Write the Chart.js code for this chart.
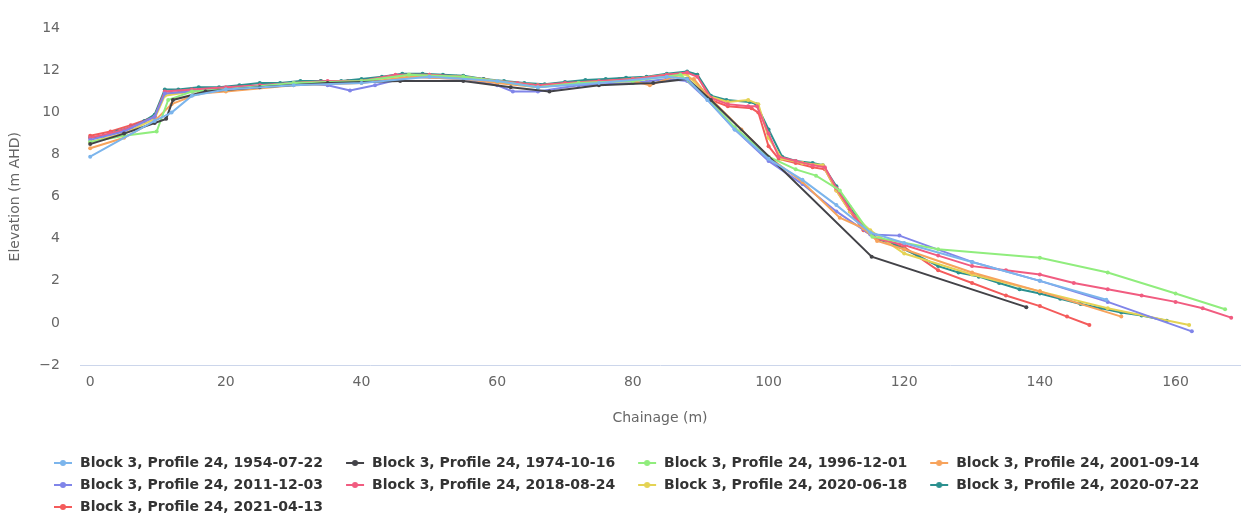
<!DOCTYPE html>
<html lang="en">
<head>
    <meta charset="UTF-8">
    <title>Block 3, Profile 24</title>
    <style>
        body {
            margin: 0;
            background: #fff;
        }
        #wrap {
            width: 1247px;
            height: 518px;
        }
    </style>
    <script src="https://cdn.jsdelivr.net/npm/chart.js"></script>
</head>
<body>
    <div id="wrap">
        <canvas id="profile-chart" width="1247" height="518"></canvas>
    </div>

    <script>
        // survey names, same order as the legend
        const surveys = [
            'Block 3, Profile 24, 1954-07-22',
            'Block 3, Profile 24, 1974-10-16',
            'Block 3, Profile 24, 1996-12-01',
            'Block 3, Profile 24, 2001-09-14',
            'Block 3, Profile 24, 2011-12-03',
            'Block 3, Profile 24, 2018-08-24',
            'Block 3, Profile 24, 2020-06-18',
            'Block 3, Profile 24, 2020-07-22',
            'Block 3, Profile 24, 2021-04-13'
        ];

        const colors = ['#7cb5ec', '#434348', '#90ed7d', '#f7a35c', '#8085e9', '#f15c80', '#e4d354', '#2b908f', '#f45b5b'];

        // [chainage (m), elevation (m AHD)]
        const p1954 = [[0,7.9],[9.5,9.6],[12,10.0],[15,10.8],[20,11.1],[30,11.3],[40,11.4],[50,11.7],[60,11.5],[66,11.2],[75,11.4],[85,11.7],[88,11.6],[91,10.6],[95,9.2],[100,7.8],[105,6.8],[110,5.6],[115,4.3],[120,3.8],[130,2.9],[140,2.0],[149.8,1.1]];
        const p1974 = [[0,8.5],[5,9.0],[9.5,9.5],[11.2,9.7],[12.2,10.6],[17,11.0],[25,11.2],[35,11.4],[45.7,11.5],[55,11.5],[62,11.2],[67.7,11.0],[75,11.3],[83,11.4],[88,11.6],[91.5,10.6],[115.2,3.15],[138,0.75]];
        const p1996 = [[0,8.6],[5,8.9],[9.8,9.1],[11.5,10.6],[15,11.0],[20,11.1],[30,11.4],[40,11.5],[47,11.8],[55,11.7],[60,11.5],[66,11.2],[72,11.4],[80,11.5],[87,11.8],[90,11.0],[95,9.3],[100,7.9],[104,7.3],[107,7.0],[110.5,6.3],[115.3,4.1],[125,3.5],[140,3.1],[150,2.4],[160,1.4],[167.3,0.65]];
        const p2001 = [[0,8.3],[5,8.8],[9.5,9.6],[12,10.4],[16,10.9],[20,11.0],[30,11.3],[40,11.4],[47,11.7],[55,11.6],[60,11.4],[66,11.2],[72,11.4],[80,11.5],[82.5,11.3],[86,11.7],[89,11.6],[91,10.8],[96,9.2],[100,7.9],[105,6.7],[110.5,5.0],[114,4.5],[116,3.9],[120,3.5],[130,2.4],[140,1.5],[152,0.3]];
        const p2011 = [[0,8.7],[5,9.1],[9.5,9.8],[11,10.9],[15,11.0],[20,11.1],[30,11.4],[35,11.3],[38.3,11.05],[42,11.3],[47,11.7],[55,11.6],[60,11.3],[62.3,11.0],[66,11.0],[72,11.3],[80,11.4],[85,11.6],[88,11.5],[91,10.6],[95,9.2],[100,7.7],[105,6.6],[110,5.3],[115,4.2],[119.3,4.15],[130,2.9],[140,2.0],[150,1.0],[162.4,-0.4]];
        const p2018 = [[0,8.8],[3,9.0],[6,9.3],[9.5,9.8],[11,11.0],[15,11.1],[20,11.2],[25,11.3],[30,11.4],[35,11.5],[40,11.5],[45,11.8],[50,11.8],[55,11.7],[60,11.5],[63,11.4],[66,11.3],[70,11.4],[75,11.5],[80,11.6],[85,11.8],[88,11.9],[89.5,11.7],[91.5,10.7],[94,10.4],[97,10.3],[98.3,10.3],[100,9.0],[101.5,7.9],[104,7.7],[106.5,7.5],[108.3,7.4],[110,6.4],[112,5.4],[114,4.5],[116,4.0],[120,3.7],[125,3.2],[130,2.7],[135,2.5],[140,2.3],[145,1.9],[150,1.6],[155,1.3],[160,1.0],[164,0.7],[168.2,0.25]];
        const p2020a = [[0,8.6],[5,9.0],[9.5,9.7],[11,10.8],[15,11.0],[20,11.1],[30,11.4],[40,11.5],[47,11.8],[55,11.7],[60,11.5],[66,11.3],[72,11.4],[80,11.6],[85,11.8],[88,11.8],[91,10.8],[94,10.5],[97,10.6],[98.5,10.4],[100,8.8],[102,7.8],[105,7.6],[108,7.5],[110,6.3],[112,5.3],[115,4.4],[120,3.3],[130,2.3],[140,1.5],[150,0.7],[162,-0.1]];
        const p2020b = [[0,8.8],[2,8.9],[4,9.1],[6,9.3],[8,9.6],[9.5,9.9],[11,11.1],[13,11.1],[16,11.2],[19,11.2],[22,11.3],[25,11.4],[28,11.4],[31,11.5],[34,11.5],[37,11.5],[40,11.6],[43,11.7],[46,11.85],[49,11.85],[52,11.8],[55,11.75],[58,11.6],[61,11.5],[64,11.4],[67,11.35],[70,11.45],[73,11.55],[76,11.6],[79,11.65],[82,11.7],[85,11.85],[88,11.95],[89.5,11.8],[91.5,10.8],[93.8,10.6],[97.2,10.5],[98.2,10.4],[100,9.2],[102,7.9],[104,7.7],[106.5,7.6],[108,7.5],[110,6.5],[112,5.5],[114,4.6],[116,4.0],[118,3.8],[120,3.5],[122,3.2],[125,2.7],[128,2.4],[131,2.2],[134,1.9],[137,1.6],[140,1.4],[143,1.15],[146,0.9],[149,0.7],[152,0.5],[155,0.35],[158.7,0.1]];
        const p2021 = [[0,8.9],[3,9.1],[6,9.4],[9.5,9.8],[11,10.9],[14,11.0],[18,11.1],[22,11.2],[26,11.3],[30,11.4],[34,11.5],[38,11.5],[42,11.6],[46,11.8],[50,11.8],[54,11.7],[58,11.6],[62,11.4],[66,11.3],[70,11.4],[74,11.5],[78,11.6],[82,11.6],[85,11.8],[88,11.9],[89.5,11.8],[91.5,10.6],[94,10.3],[97.5,10.2],[98.5,10.0],[100,8.4],[101.5,7.8],[104,7.6],[106.5,7.4],[108.3,7.3],[110,6.3],[112,5.3],[114,4.4],[116,4.0],[120,3.6],[125,2.5],[130,1.9],[135,1.3],[140,0.8],[144,0.3],[147.3,-0.1]];

        const profiles = [p1954, p1974, p1996, p2001, p2011, p2018, p2020a, p2020b, p2021];

        const yTicks = [-2, 0, 2, 4, 6, 8, 10, 12, 14];
        const xTicks = [0, 20, 40, 60, 80, 100, 120, 140, 160];

        // line-with-dot legend symbol, drawn at the right end of a wider box
        const iconWidth = 34;
        function legendIcon(color) {
            const c = document.createElement('canvas');
            c.width = iconWidth;
            c.height = 10;
            const g = c.getContext('2d');
            g.strokeStyle = color;
            g.lineWidth = 2;
            g.beginPath();
            g.moveTo(iconWidth - 19, 5);
            g.lineTo(iconWidth - 1, 5);
            g.stroke();
            g.fillStyle = color;
            g.beginPath();
            g.arc(iconWidth - 10, 5, 3, 0, Math.PI * 2);
            g.fill();
            return c;
        }
        const icons = colors.map(legendIcon);

        const datasets = profiles.map((pts, i) => ({
            label: surveys[i],
            data: pts.map(p => ({ x: p[0], y: p[1] })),
            borderColor: colors[i],
            backgroundColor: colors[i],
            borderWidth: 2,
            pointRadius: 2,
            pointBorderWidth: 0,
            tension: 0
        }));

        // move the legend block to where it sits in the original
        const legendShift = {
            id: 'legendShift',
            afterLayout(chart) {
                chart.legend.left += 31;
                chart.legend.right += 31;
                chart.legend.top += 6;
                chart.legend.bottom += 6;
            }
        };

        const font = "'DejaVu Sans', sans-serif";

        new Chart(document.getElementById('profile-chart'), {
            type: 'line',
            data: { datasets: datasets },
            plugins: [legendShift],
            options: {
                responsive: false,
                animation: false,
                layout: { padding: { top: 18, right: 7, left: 0, bottom: 0 } },
                plugins: {
                    tooltip: { enabled: false },
                    legend: {
                        position: 'bottom',
                        align: 'start',
                        labels: {
                            usePointStyle: true,
                            pointStyleWidth: iconWidth,
                            boxHeight: 10,
                            padding: 8,
                            color: '#333',
                            font: { family: font, size: 14, weight: 'bold' },
                            generateLabels(chart) {
                                const items = Chart.defaults.plugins.legend.labels.generateLabels(chart);
                                items.forEach((it, i) => { it.pointStyle = icons[i]; });
                                return items;
                            }
                        }
                    }
                },
                scales: {
                    x: {
                        type: 'linear',
                        min: -1.5,
                        max: 169.5,
                        afterFit(scale) { scale.height = 77; },
                        afterBuildTicks(scale) { scale.ticks = xTicks.map(v => ({ value: v })); },
                        grid: { display: false, drawTicks: false },
                        border: { display: true, color: '#ccd6eb', width: 1 },
                        ticks: {
                            padding: 9,
                            color: '#666',
                            font: { family: font, size: 14 }
                        },
                        title: {
                            display: true,
                            text: 'Chainage (m)',
                            color: '#666',
                            font: { family: font, size: 14 },
                            padding: { top: 0, bottom: 15 }
                        }
                    },
                    y: {
                        min: -2,
                        max: 14,
                        afterFit(scale) { scale.width = 80; },
                        afterBuildTicks(scale) { scale.ticks = yTicks.map(v => ({ value: v })); },
                        grid: { display: false, drawTicks: false },
                        border: { display: false },
                        ticks: {
                            padding: 20,
                            color: '#666',
                            font: { family: font, size: 14 },
                            callback: v => String(v).replace('-', '\u2212')
                        },
                        title: {
                            display: true,
                            text: 'Elevation (m AHD)',
                            color: '#666',
                            font: { family: font, size: 14 },
                            padding: { top: 7, bottom: 0 }
                        }
                    }
                }
            }
        });
    </script>
</body>
</html>
